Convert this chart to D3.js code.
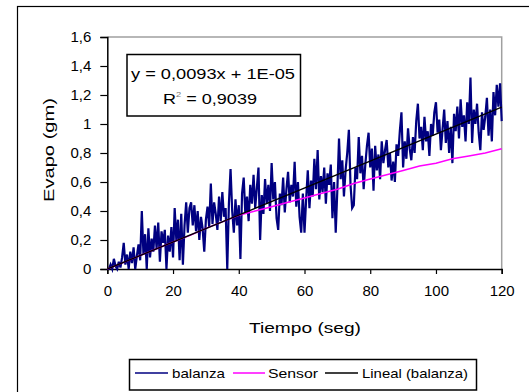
<!DOCTYPE html>
<html>
<head>
<meta charset="utf-8">
<script src="https://cdn.jsdelivr.net/npm/d3@7"></script>
<style>
  html, body { margin: 0; padding: 0; background: #fff; }
  svg { display: block; }
  text { font-family: "Liberation Sans", Arial, sans-serif; fill: #000; }
</style>
</head>
<body>
<div id="chart"></div>
<script>
// Balance readings, one every 0.5 s from 0 to 120 s (gm)
const balanzaStep = 0.5;
const balanza = [
  0.00, 0.00, 0.03, 0.00, 0.07, 0.02, 0.00, 0.05, 0.01, 0.08,
  0.18, 0.03, 0.10, 0.00, 0.12, 0.04, 0.15, 0.00, 0.09, 0.17,
  0.06, 0.40, 0.10, 0.24, 0.00, 0.28, 0.08, 0.21, 0.12, 0.30,
  0.14, 0.32, 0.05, 0.26, 0.18, 0.27, 0.00, 0.23, 0.12, 0.29,
  0.08, 0.42, 0.20, 0.34, 0.06, 0.38, 0.03, 0.30, 0.46, 0.25,
  0.42, 0.46, 0.30, 0.44, 0.26, 0.40, 0.20, 0.36, 0.28, 0.12,
  0.34, 0.43, 0.29, 0.59, 0.31, 0.46, 0.38, 0.27, 0.50, 0.33,
  0.53, 0.36, 0.42, 0.00, 0.45, 0.69, 0.40, 0.25, 0.48, 0.30,
  0.44, 0.07, 0.52, 0.63, 0.38, 0.50, 0.33, 0.58, 0.45, 0.65,
  0.42, 0.56, 0.70, 0.20, 0.51, 0.38, 0.62, 0.45, 0.58, 0.40,
  0.73, 0.48, 0.60, 0.35, 0.27, 0.52, 0.44, 0.63, 0.39, 0.55,
  0.67, 0.46, 0.58, 0.50, 0.74, 0.43, 0.60, 0.36, 0.25, 0.52,
  0.25, 0.48, 0.68, 0.42, 0.61, 0.50, 0.76, 0.55, 0.82, 0.48,
  0.64, 0.53, 0.70, 0.45, 0.66, 0.58, 0.72, 0.35, 0.60, 0.25,
  0.55, 0.90, 0.62, 0.75, 0.50, 0.68, 0.80, 0.96, 0.58, 0.42,
  0.44, 0.70, 0.62, 0.91, 0.66, 0.78, 0.55, 0.72, 0.85, 0.94,
  0.70, 0.83, 0.54, 0.85, 0.68, 0.79, 0.62, 0.88, 0.73, 0.82,
  0.89, 0.70, 0.80, 0.61, 0.74, 0.60, 0.86, 0.78, 0.95, 1.08,
  0.70, 0.88, 0.76, 0.97, 0.83, 0.75, 0.91, 0.80, 1.02, 1.14,
  0.90, 0.98, 0.82, 1.05, 0.88, 0.95, 0.78, 1.00, 0.92, 1.08,
  1.15, 0.94, 1.03, 0.82, 0.96, 1.10, 0.87, 1.02, 0.80, 0.98,
  0.73, 1.07, 0.95, 1.12, 0.90, 1.17, 0.98, 1.06, 0.88, 1.15,
  1.00, 1.32, 0.87, 1.10, 1.00, 1.14, 0.94, 0.82, 1.08, 0.96,
  1.05, 1.18, 0.92, 1.10, 0.88, 1.22, 1.06, 1.27, 1.12, 1.28,
  1.02
];

// Sensor estimate, one every 5 s from 0 to 120 s (gm)
const sensorStep = 5;
const sensor = [
  0.00, 0.046, 0.093, 0.14, 0.186, 0.23, 0.28, 0.325, 0.37, 0.40,
  0.43, 0.46, 0.49, 0.52, 0.55, 0.59, 0.62, 0.65, 0.68, 0.71,
  0.73, 0.76, 0.78, 0.80, 0.83
];

// Linear fit of the balance readings
const fitSlope = 0.0093;
const fitIntercept = 1e-5;
const fitRange = [0, 120];

const xTicks = [0, 20, 40, 60, 80, 100, 120];
const yTicks = [0, 0.2, 0.4, 0.6, 0.8, 1, 1.2, 1.4, 1.6];
const seriesNames = ["balanza", "Sensor", "Lineal (balanza)"];
const equationText = "y = 0,0093x + 1E-05";
const r2Text = "0,9039";

const W = 529, H = 392;
const plot = { left: 107.3, right: 501.7, top: 37, bottom: 269 };
const colors = { balanza: "#000080", sensor: "#ff00ff", fit: "#000000" };
const FONT = '"Liberation Sans", Arial, sans-serif';

const fmt = v => String(+v.toFixed(1)).replace(".", ",");

const svg = d3.select("#chart").append("svg")
  .attr("width", W).attr("height", H);

// Outer chart frame (extends past the bottom/right edges)
svg.append("rect")
  .attr("x", 17.5).attr("y", 6.5)
  .attr("width", 600).attr("height", 500)
  .attr("fill", "#fff").attr("stroke", "#000").attr("stroke-width", 1.2);

const x = d3.scaleLinear().domain([0, 120]).range([plot.left, plot.right]);
const y = d3.scaleLinear().domain([0, 1.6]).range([plot.bottom, plot.top]);

// Plot area border (top and right in grey)
svg.append("path")
  .attr("d", `M${plot.left},${plot.top}H${plot.right}V${plot.bottom}`)
  .attr("fill", "none").attr("stroke", "#a0a0a0").attr("stroke-width", 1.5);

// Axes
const xAxis = svg.append("g")
  .attr("transform", `translate(0,${plot.bottom})`)
  .call(d3.axisBottom(x).tickValues(xTicks).tickSize(5).tickPadding(11).tickFormat(d => d));
const yAxis = svg.append("g")
  .attr("transform", `translate(${plot.left},0)`)
  .call(d3.axisLeft(y).tickValues(yTicks).tickSize(7).tickPadding(9).tickFormat(fmt));

[xAxis, yAxis].forEach(g => {
  g.select(".domain").attr("stroke", "#000").attr("stroke-width", 1.5);
  g.selectAll(".tick line").attr("stroke", "#000").attr("stroke-width", 1.2);
  g.selectAll("text")
    .style("font-family", FONT)
    .style("font-size", "15px").attr("fill", "#000");
});

// Series lines
const balanzaPts = balanza.map((v, i) => [i * balanzaStep, v]);
const sensorPts = sensor.map((v, i) => [i * sensorStep, v]);
const fitPts = fitRange.map(t => [t, fitSlope * t + fitIntercept]);
const line = d3.line().x(d => x(d[0])).y(d => y(d[1]));

svg.append("path").datum(balanzaPts)
  .attr("d", line).attr("fill", "none")
  .attr("stroke", colors.balanza).attr("stroke-width", 2.2)
  .attr("stroke-linejoin", "miter");
svg.append("path").datum(sensorPts)
  .attr("d", line).attr("fill", "none")
  .attr("stroke", colors.sensor).attr("stroke-width", 1.5);
svg.append("path").datum(fitPts)
  .attr("d", line).attr("fill", "none")
  .attr("stroke", colors.fit).attr("stroke-width", 1.5);

// Axis titles
svg.append("text")
  .attr("x", 249).attr("y", 333)
  .attr("textLength", 112).attr("lengthAdjust", "spacingAndGlyphs")
  .style("font-size", "15px")
  .text("Tiempo (seg)");
svg.append("text")
  .attr("transform", "translate(54,202) rotate(-90)")
  .attr("textLength", 104).attr("lengthAdjust", "spacingAndGlyphs")
  .style("font-size", "15px")
  .text("Evapo (gm)");

// Regression equation box
const eq = svg.append("g");
eq.append("rect")
  .attr("x", 127).attr("y", 54.5).attr("width", 173.5).attr("height", 61.5)
  .attr("fill", "#fff").attr("stroke", "#000").attr("stroke-width", 1.5);
eq.append("text")
  .attr("x", 131).attr("y", 78.5)
  .attr("textLength", 164).attr("lengthAdjust", "spacingAndGlyphs")
  .style("font-size", "15.5px").text(equationText);
const r2 = eq.append("text")
  .attr("x", 163).attr("y", 104)
  .attr("textLength", 94).attr("lengthAdjust", "spacingAndGlyphs")
  .style("font-size", "15.5px");
r2.append("tspan").text("R");
r2.append("tspan").attr("dy", -7).style("font-size", "8px").attr("fill", "#777").text("2");
r2.append("tspan").attr("dy", 7).text(" = " + r2Text);

// Legend
const lg = svg.append("g");
lg.append("rect")
  .attr("x", 129.5).attr("y", 359.5).attr("width", 347).attr("height", 30.5)
  .attr("fill", "#fff").attr("stroke", "#000").attr("stroke-width", 1.5);
const legendItems = [
  { name: seriesNames[0], color: colors.balanza, x0: 135, x1: 168, tx: 172, tw: 53 },
  { name: seriesNames[1], color: colors.sensor, x0: 233, x1: 265, tx: 268, tw: 50 },
  { name: seriesNames[2], color: colors.fit, x0: 325, x1: 358, tx: 362, tw: 106 }
];
legendItems.forEach(d => {
  lg.append("line")
    .attr("x1", d.x0).attr("x2", d.x1).attr("y1", 373).attr("y2", 373)
    .attr("stroke", d.color).attr("stroke-width", 1.5);
  lg.append("text")
    .attr("x", d.tx).attr("y", 378)
    .attr("textLength", d.tw).attr("lengthAdjust", "spacingAndGlyphs")
    .style("font-size", "13px").text(d.name);
});
</script>
</body>
</html>
